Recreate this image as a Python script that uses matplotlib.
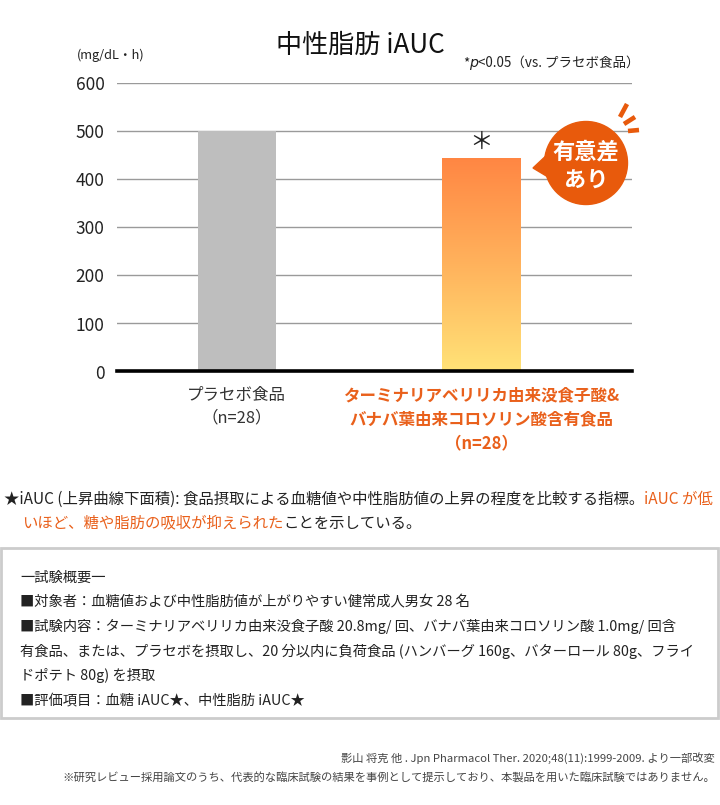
import numpy as np
import matplotlib
matplotlib.use('Agg')
import matplotlib.pyplot as plt
from matplotlib.colors import LinearSegmentedColormap
from matplotlib.patches import Circle, Polygon, Rectangle

# 字型設定（日本語）
plt.rcParams['font.family'] = ['Noto Sans CJK JP', 'DejaVu Sans']

# データ
categories = ['プラセボ食品\n（n=28）',
              'ターミナリアベリリカ由来没食子酸&\nバナバ葉由来コロソリン酸含有食品\n（n=28）']
values = [502, 444]
y_ticks = [0, 100, 200, 300, 400, 500, 600]

title = '中性脂肪 iAUC'
unit_label = '(mg/dL・h)'
badge_text = ['有意差', 'あり']

note_black_1 = '★iAUC (上昇曲線下面積): 食品摂取による血糖値や中性脂肪値の上昇の程度を比較する指標。'
note_orange_1 = 'iAUC が低'
note_orange_2 = 'いほど、糖や脂肪の吸収が抑えられた'
note_black_2 = 'ことを示している。'

summary_lines = [
    '一試験概要一',
    '■対象者：血糖値および中性脂肪値が上がりやすい健常成人男女 28 名',
    '■試験内容：ターミナリアベリリカ由来没食子酸 20.8mg/ 回、バナバ葉由来コロソリン酸 1.0mg/ 回含',
    '有食品、または、プラセボを摂取し、20 分以内に負荷食品 (ハンバーグ 160g、バターロール 80g、フライ',
    'ドポテト 80g) を摂取',
    '■評価項目：血糖 iAUC★、中性脂肪 iAUC★',
]
citation_lines = [
    '影山 将克 他 . Jpn Pharmacol Ther. 2020;48(11):1999-2009. より一部改変',
    '※研究レビュー採用論文のうち、代表的な臨床試験の結果を事例として提示しており、本製品を用いた臨床試験ではありません。',
]

ORANGE = '#E9601B'
BADGE = '#E85A0C'
W, H = 720, 805

fig = plt.figure(figsize=(W / 100, H / 100), dpi=100)
fig.patch.set_facecolor('white')

# メイングラフ
ax_l, ax_r, ax_t, ax_b = 117, 632, 83.5, 371.5
ax = fig.add_axes([ax_l / W, 1 - ax_b / H, (ax_r - ax_l) / W, (ax_b - ax_t) / H])
x = np.arange(len(values))
bars = ax.bar(x, values, width=0.32, color=['#BEBEBE', 'none'], zorder=3)

# グラデーション棒
cmap = LinearSegmentedColormap.from_list('grad', ['#FFE277', '#FFB25C', '#FF8643'])
b = bars[1]
grad = np.linspace(0, 1, 256).reshape(-1, 1)
im = ax.imshow(grad, extent=(b.get_x(), b.get_x() + b.get_width(), 0, b.get_height()),
               origin='lower', aspect='auto', cmap=cmap, zorder=3)
im.set_clip_path(b)

ax.set_xlim(-0.49, 1.615)
ax.set_ylim(0, 600)
ax.set_yticks(y_ticks)
ax.tick_params(axis='y', length=0, pad=9, labelsize=12.5, labelcolor='#222222')
ax.set_xticks(x, labels=categories)
ax.tick_params(axis='x', length=0, pad=11, labelsize=11.9)
for lbl in ax.get_xticklabels():
    lbl.set_linespacing(1.42)
xl = ax.get_xticklabels()
xl[0].set_color('#333333')
xl[1].set_color(ORANGE)
xl[1].set_fontweight('bold')

ax.grid(axis='y', color='#9A9A9A', linewidth=1, zorder=1)
for s in ['top', 'right', 'left']:
    ax.spines[s].set_visible(False)
ax.spines['bottom'].set_linewidth(2.6)
ax.spines['bottom'].set_color('black')
ax.spines['bottom'].set_zorder(5)

# 有意差マーク
ax.annotate('＊', xy=(x[1], values[1]), xytext=(0, 3), textcoords='offset points',
            ha='center', va='bottom', fontsize=17, color='#222222')

# 文字や装飾用オーバーレイ（ピクセル座標）
ov = fig.add_axes([0, 0, 1, 1], zorder=10)
ov.set_xlim(0, W)
ov.set_ylim(H, 0)
ov.axis('off')
ov.patch.set_alpha(0)

ov.text(360, 45, title, ha='center', va='center', fontsize=18.8, color='#111111')
ov.text(77, 55, unit_label, ha='left', va='center', fontsize=9.2, color='#222222')

# *p<0.05（vs. プラセボ食品）
t3 = ov.text(640, 63, '<0.05（vs. プラセボ食品）', ha='right', va='center', fontsize=9.7, color='#222222')
t2 = ov.annotate('p', xy=(0, 0.5), xycoords=t3, ha='right', va='center', fontsize=10.2,
                 style='italic', family='DejaVu Sans', color='#222222')
ov.annotate('*', xy=(0, 0.5), xycoords=t2, ha='right', va='center', fontsize=9.7, color='#222222')

# 吹き出し
ov.add_patch(Polygon([(549, 153), (533, 168), (553, 180)], closed=True, color=BADGE, zorder=2))
ov.add_patch(Circle((586, 163), 41.5, color=BADGE, zorder=2))
rays = [((620, 117), (627, 104)), ((624, 124), (635, 117)), ((628, 131), (639, 130))]
for (x0, y0), (x1, y1) in rays:
    ov.plot([x0, x1], [y0, y1], color=BADGE, lw=3.3, solid_capstyle='butt', zorder=2)
ov.text(586, 152, badge_text[0], ha='center', va='center', fontsize=16,
        fontweight='bold', color='white', zorder=3)
ov.text(586, 180, badge_text[1], ha='center', va='center', fontsize=16,
        fontweight='bold', color='white', zorder=3)

# 注釈
FS_NOTE = 11.1
n1 = ov.text(4, 499, note_black_1, ha='left', va='center', fontsize=FS_NOTE, color='#222222')
ov.annotate(note_orange_1, xy=(1, 0.5), xycoords=n1, ha='left', va='center',
            fontsize=FS_NOTE, color=ORANGE)
n2 = ov.text(22, 523, note_orange_2, ha='left', va='center', fontsize=FS_NOTE, color=ORANGE)
ov.annotate(note_black_2, xy=(1, 0.5), xycoords=n2, ha='left', va='center',
            fontsize=FS_NOTE, color='#222222')

# 試験概要の枠
ov.add_patch(Rectangle((1, 548), 717, 170, fill=False, edgecolor='#CCCCCC', lw=2))
for i, line in enumerate(summary_lines):
    ov.text(20, 578 + i * 24.4, line, ha='left', va='center', fontsize=10.3, color='#222222')

# 出典
for i, line in enumerate(citation_lines):
    ov.text(715, 758 + i * 19, line, ha='right', va='center', fontsize=8.15, color='#444444')

fig.savefig('out.png', dpi=100)
